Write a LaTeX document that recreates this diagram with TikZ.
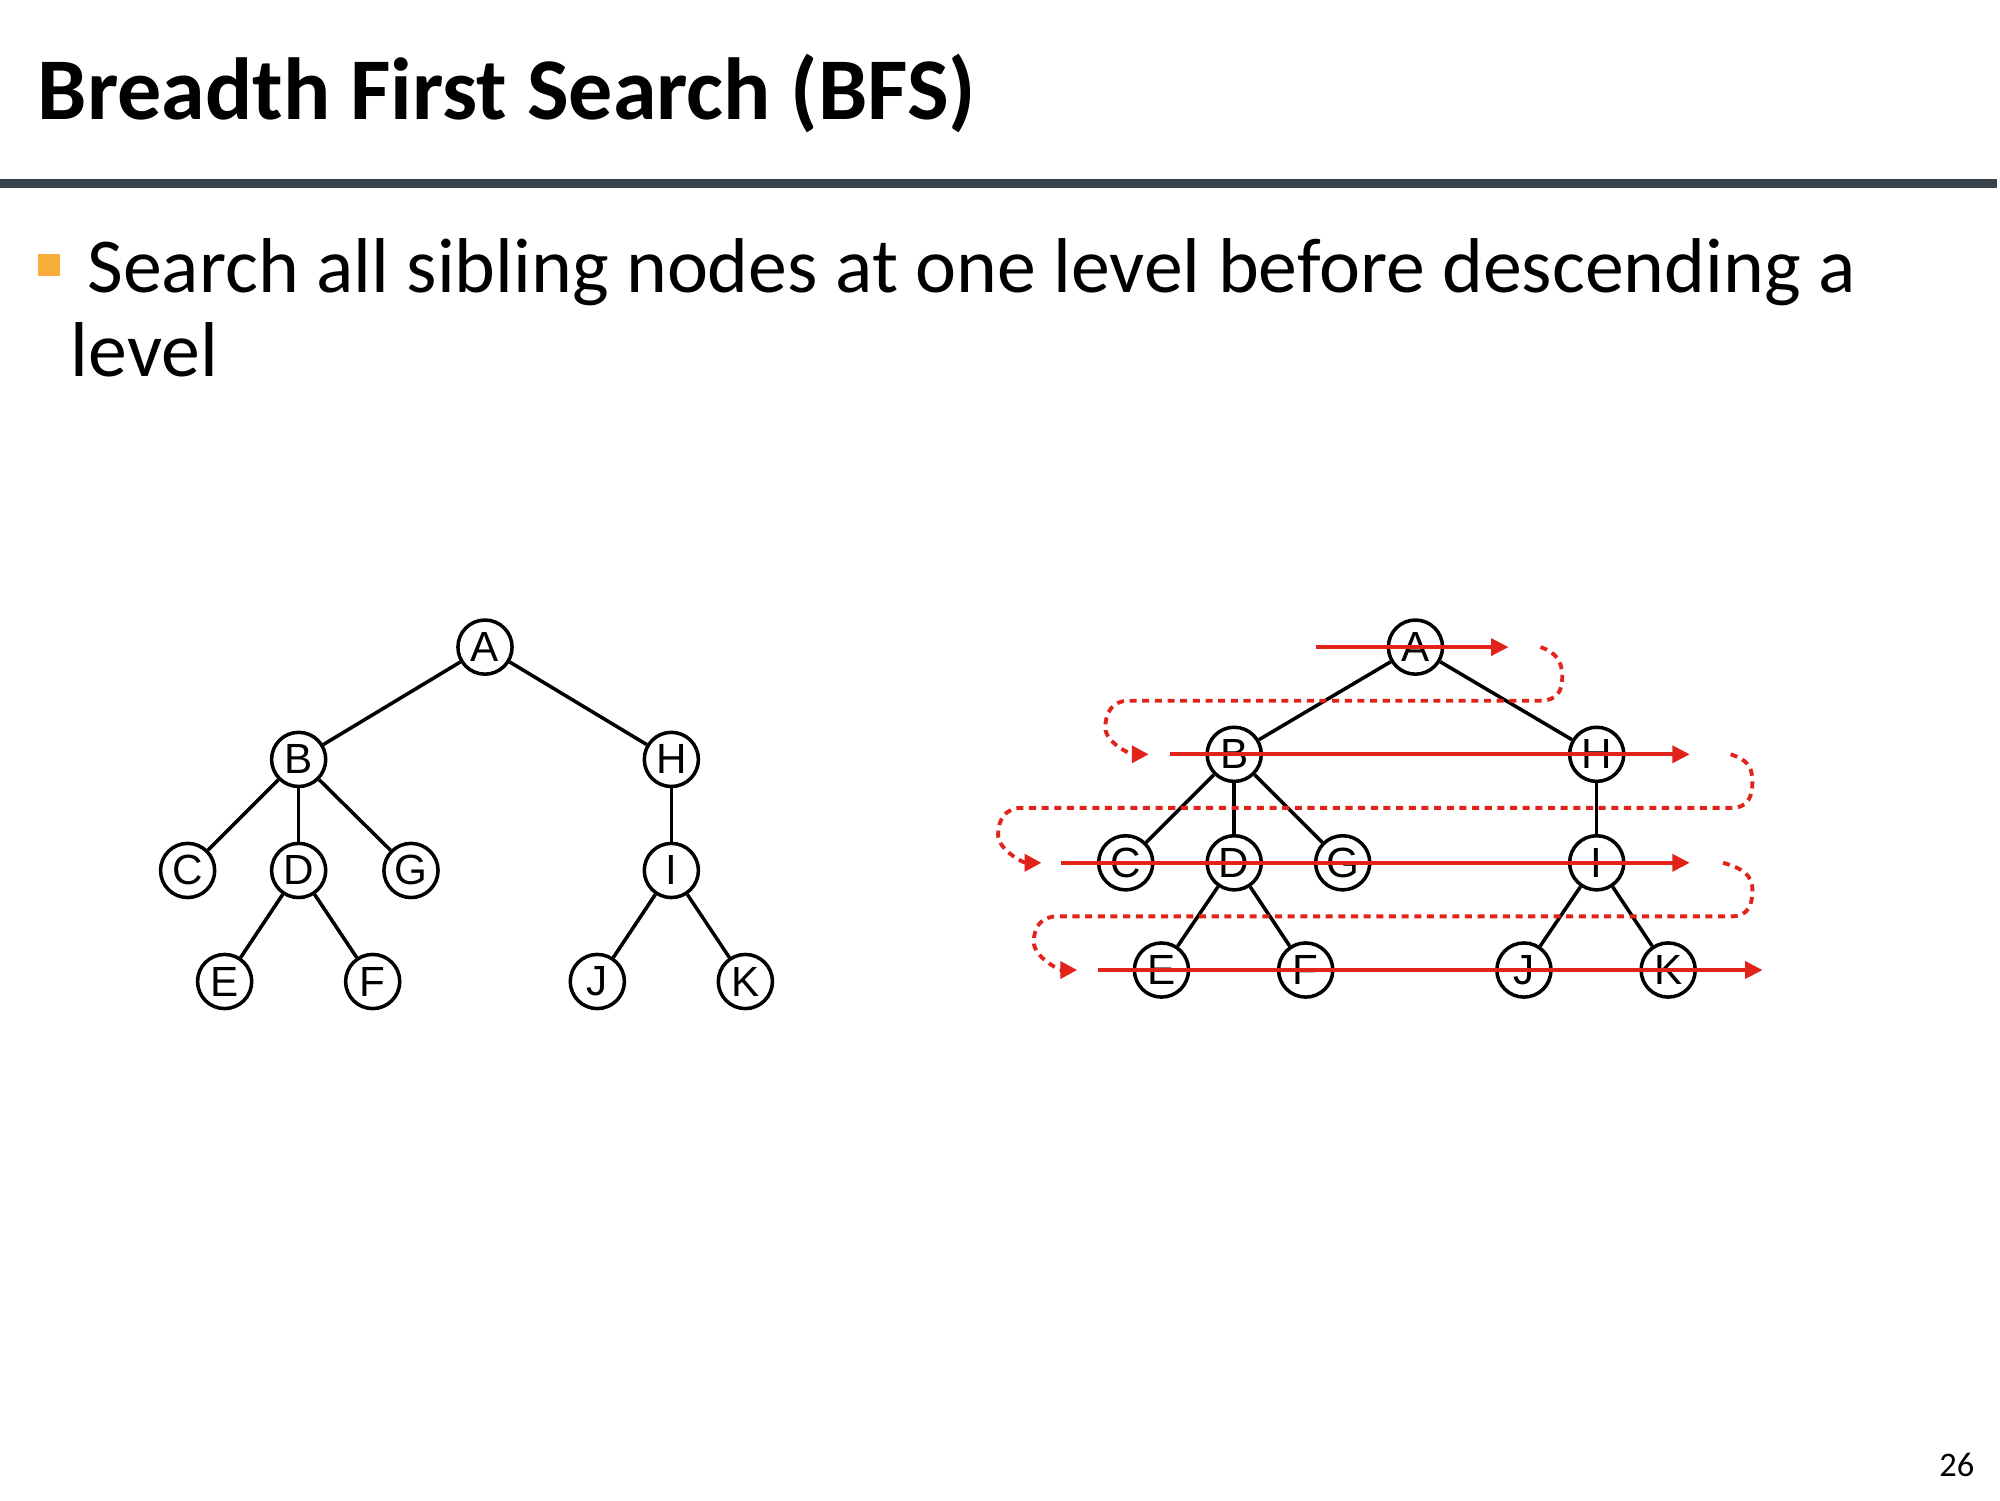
\documentclass[tikz,border=0pt]{standalone}
\usepackage{fontspec}
\setmainfont{Carlito}
\newfontfamily\arialf{Liberation Sans}
\usetikzlibrary{arrows.meta}
\definecolor{rulec}{HTML}{37444E}
\definecolor{bulc}{HTML}{F8AD38}
\definecolor{redc}{HTML}{E2231A}
\tikzset{
  tn/.style={circle,draw=black,line width=1.0pt,minimum size=15.4pt,inner sep=0pt,font=\arialf\fontsize{12pt}{14pt}\selectfont},
  te/.style={line width=1.0pt,black},
  redarr/.style={redc,line width=1.15pt,-{Triangle[length=5pt,width=4.8pt]}},
  dotr/.style={redc,line width=1.1pt,dash pattern=on 2pt off 1.6pt,-{Triangle[length=4.8pt,width=4.8pt]}},
  txt/.style={inner sep=0pt,anchor=base west}
}
\begin{document}
\begin{tikzpicture}[x=0.01276cm,y=-0.01276cm]
\useasboundingbox (0,0) rectangle (1567,1175.5);
% title
\node[txt,font=\fontsize{25.05pt}{30pt}\selectfont\bfseries] (title) at (29,93.5) {Breadth First Search (BFS)};
\fill[rulec] (0,140) rectangle (1565,147);
\fill[bulc] (30,199) rectangle (47,216);
\node[txt,font=\fontsize{22.1pt}{26pt}\selectfont] (l1) at (68,229) {Search all sibling nodes at one level before descending a};
\node[txt,font=\fontsize{22.1pt}{26pt}\selectfont] (l2) at (55,295) {level};
\node[txt,font=\fontsize{9.8pt}{12pt}\selectfont] (pg) at (1519,1157) {26};
% left tree
\node[tn] (A) at (380,507) {A};
\node[tn] (B) at (234,595) {B};
\node[tn] (H) at (526,595) {H};
\node[tn] (C) at (147,682) {C};
\node[tn] (D) at (234,682) {D};
\node[tn] (G) at (322,682) {G};
\node[tn] (I) at (526,682) {I};
\node[tn] (E) at (176,769) {E};
\node[tn] (F) at (292,769) {F};
\node[tn] (J) at (468,769) {J};
\node[tn] (K) at (584,769) {K};
\foreach \a/\b in {A/B,A/H,B/C,B/D,B/G,D/E,D/F,H/I,I/J,I/K}
  \draw[te] (\a) -- (\b);
% right tree
\node[tn] (rA) at (1109,507) {A};
\node[tn] (rB) at (967,591) {B};
\node[tn] (rH) at (1251,591) {H};
\node[tn] (rC) at (882,676) {C};
\node[tn] (rD) at (967,676) {D};
\node[tn] (rG) at (1052,676) {G};
\node[tn] (rI) at (1251,676) {I};
\node[tn] (rE) at (910,760) {E};
\node[tn] (rF) at (1023,760) {F};
\node[tn] (rJ) at (1194,760) {J};
\node[tn] (rK) at (1307,760) {K};
\foreach \a/\b in {rA/rB,rA/rH,rB/rC,rB/rD,rB/rG,rD/rE,rD/rF,rH/rI,rI/rJ,rI/rK}
  \draw[te] (\a) -- (\b);
% red sweep lines
\coordinate (s0) at (1031,507); \coordinate (e0) at (1182,507);
\coordinate (s1) at (917,591);  \coordinate (e1) at (1324,591);
\coordinate (s2) at (831,676);  \coordinate (e2) at (1324,676);
\coordinate (s3) at (860,760);  \coordinate (e3) at (1381,760);
\draw[redarr] (s0) -- (e0);
\draw[redarr] (s1) -- (e1);
\draw[redarr] (s2) -- (e2);
\draw[redarr] (s3) -- (e3);
% dotted returns
\coordinate (d1s) at (1207,507); \coordinate (d1e) at (900,591);
\coordinate (d2s) at (1356,591); \coordinate (d2e) at (816,676);
\coordinate (d3s) at (1350,676); \coordinate (d3e) at (844,760);
\draw[dotr] (d1s) .. controls +(12,4) and +(0,-12) .. (1224,530)
  .. controls +(0,12) and +(14,0) .. (1206,549) -- (884,549)
  .. controls +(-12,0) and +(0,-12) .. (866,570)
  .. controls +(0,12) and +(-14,0) .. (d1e);
\draw[dotr] (d2s) .. controls +(12,4) and +(0,-12) .. (1373,612)
  .. controls +(0,12) and +(14,0) .. (1356,633) -- (800,633)
  .. controls +(-12,0) and +(0,-12) .. (782,654)
  .. controls +(0,12) and +(-14,0) .. (d2e);
\draw[dotr] (d3s) .. controls +(14,4) and +(0,-12) .. (1373,697)
  .. controls +(0,12) and +(14,0) .. (1356,718) -- (828,718)
  .. controls +(-12,0) and +(0,-12) .. (810,738)
  .. controls +(0,12) and +(-14,0) .. (d3e);
\end{tikzpicture}
\end{document}
